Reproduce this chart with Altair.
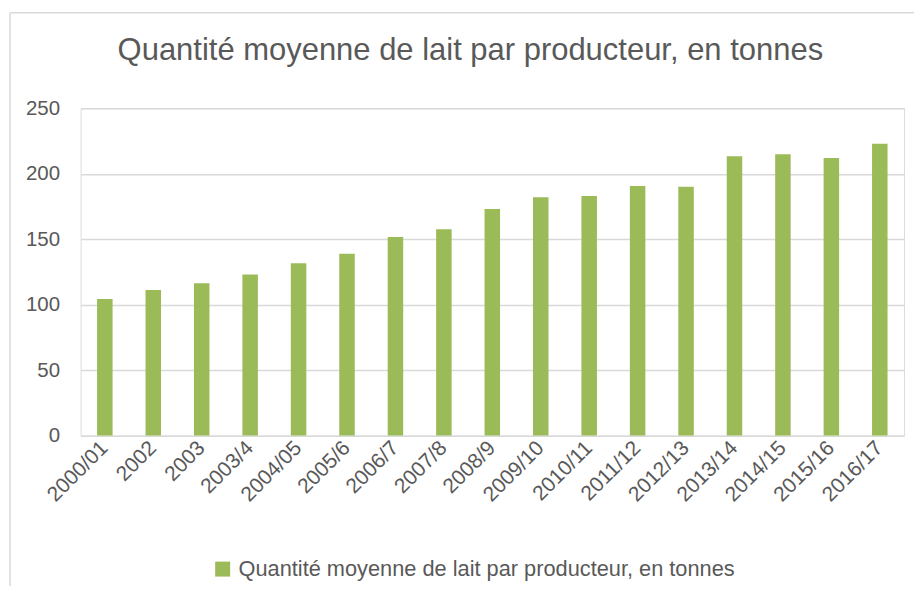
import altair as alt
import pandas as pd

categories = ["2000/01", "2002", "2003", "2003/4", "2004/05", "2005/6", "2006/7", "2007/8",
              "2008/9", "2009/10", "2010/11", "2011/12", "2012/13", "2013/14", "2014/15",
              "2015/16", "2016/17"]
values = [104.3, 111.2, 116.3, 122.9, 131.6, 138.9, 151.7, 157.6,
          173.0, 182.0, 183.0, 190.6, 190.1, 213.3, 214.8, 212.0, 222.9]
series_name = "Quantité moyenne de lait par producteur, en tonnes"
y_ticks = [0, 50, 100, 150, 200, 250]

FONT = "Liberation Sans"
TXT = "#595959"
GRID = "#D9D9D9"
GREEN = "#9BBB59"

df = pd.DataFrame({"cat": categories, "val": values, "serie": [series_name] * len(categories)})

bars = alt.Chart(df).mark_bar(color=GREEN).encode(
    x=alt.X("cat:N", sort=categories, title=None,
            scale=alt.Scale(paddingInner=0.68, paddingOuter=0.34),
            axis=alt.Axis(labelAngle=-45, labelAlign="right", labelBaseline="middle",
                          labelPadding=9, labelFontSize=21, labelColor=TXT, labelFont=FONT,
                          domain=False, ticks=False, grid=False)),
    y=alt.Y("val:Q", title=None, scale=alt.Scale(domain=[0, 250], nice=False),
            axis=alt.Axis(values=y_ticks, labelFontSize=20.5, labelColor=TXT, labelFont=FONT,
                          labelPadding=21, domain=False, ticks=False, grid=True,
                          gridColor=GRID, gridWidth=1.5)),
    color=alt.Color("serie:N", title=None,
                    scale=alt.Scale(domain=[series_name], range=[GREEN]),
                    legend=alt.Legend(orient="none", legendX=131.3, legendY=450.5,
                                      symbolType="square", symbolSize=225,
                                      symbolStrokeWidth=0, labelFontSize=21.8,
                                      labelFont=FONT, labelColor=TXT, labelOffset=5,
                                      labelLimit=700, padding=0)),
)

frame_df = pd.DataFrame({"k": [0]})
top_line = alt.Chart(frame_df).mark_rule(color=GRID, strokeWidth=1.5).encode(
    x=alt.value(-70.7), x2=alt.value(850), y=alt.value(-95.5))
left_line = alt.Chart(frame_df).mark_rule(color=GRID, strokeWidth=1.5).encode(
    x=alt.value(-70.7), y=alt.value(-95.5), y2=alt.value(500))

chart = alt.layer(top_line, left_line, bars).properties(
    width=824.3, height=327.7,
    title=alt.Title(series_name, fontSize=31, font=FONT, color=TXT, fontWeight="normal",
                    anchor="middle", dx=-22, offset=-55),
    autosize=alt.AutoSizeParams(type="none"),
    padding={"left": 72.7, "top": 100, "right": 10, "bottom": 150},
).configure_view(stroke=None).configure(background="white")

chart.save("out.html", embed_options={"renderer": "svg", "actions": False})
